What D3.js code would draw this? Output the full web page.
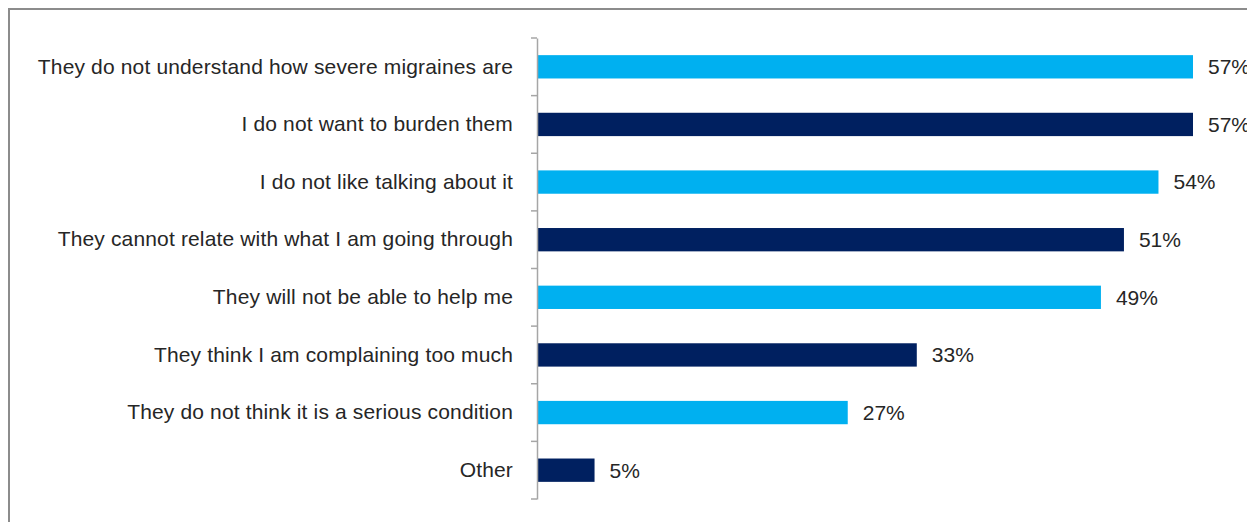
<!DOCTYPE html>
<html><head><meta charset="utf-8">
<script src="https://cdn.jsdelivr.net/npm/d3@7"></script>
<style>body{margin:0;background:#fff}svg{display:block}</style>
</head><body>
<svg id="c" width="1247" height="522"></svg>
<script>
const categories = [
  "They do not understand how severe migraines are",
  "I do not want to burden them",
  "I do not like talking about it",
  "They cannot relate with what I am going through",
  "They will not be able to help me",
  "They think I am complaining too much",
  "They do not think it is a serious condition",
  "Other"
];
const values = [57, 57, 54, 51, 49, 33, 27, 5];
const colors = ["#00B0F0", "#002060"];

const FONT = "Liberation Sans, Arial, sans-serif";
const svg = d3.select("#c");
// frame
svg.append("rect").attr("x", 9).attr("y", 9).attr("width", 1300).attr("height", 600)
  .attr("fill", "none").attr("stroke", "#8c8c8c").attr("stroke-width", 2);

const x = d3.scaleLinear().domain([0, 57]).range([537, 1193]);
const y = d3.scaleBand().domain(categories).range([38, 499]).paddingInner(0.595).paddingOuter(0.2975);

svg.selectAll("rect.bar").data(values).join("rect").attr("class", "bar")
  .attr("x", x(0)).attr("y", (d, i) => y(categories[i]))
  .attr("width", d => x(d) - x(0)).attr("height", y.bandwidth())
  .attr("fill", (d, i) => colors[i % 2]);

svg.selectAll("text.val").data(values).join("text").attr("class", "val")
  .attr("x", d => x(d) + 15).attr("y", (d, i) => y(categories[i]) + y.bandwidth() / 2)
  .attr("dy", "0.35em").attr("font-family", FONT)
  .attr("font-size", 21).attr("fill", "#262626").text(d => d + "%");

// axis
const ax = svg.append("g").attr("transform", `translate(${x(0)},0)`)
  .call(d3.axisLeft(y).tickSize(0).tickPadding(24));
ax.select(".domain").attr("stroke", "#a6a6a6").attr("stroke-width", 1.5);
ax.selectAll("text").attr("font-family", FONT).attr("font-size", 21)
  .attr("letter-spacing", 0.15).attr("fill", "#262626");
const bounds = categories.map(c => y(c) - y.step() * y.paddingInner() / 2)
  .concat([y(categories[categories.length - 1]) + y.bandwidth() + y.step() * y.paddingInner() / 2]);
svg.selectAll("line.tk").data(bounds).join("line").attr("class", "tk")
  .attr("x1", x(0) - 6).attr("x2", x(0)).attr("y1", d => d).attr("y2", d => d)
  .attr("stroke", "#a6a6a6").attr("stroke-width", 1.5);
</script>
</body></html>
